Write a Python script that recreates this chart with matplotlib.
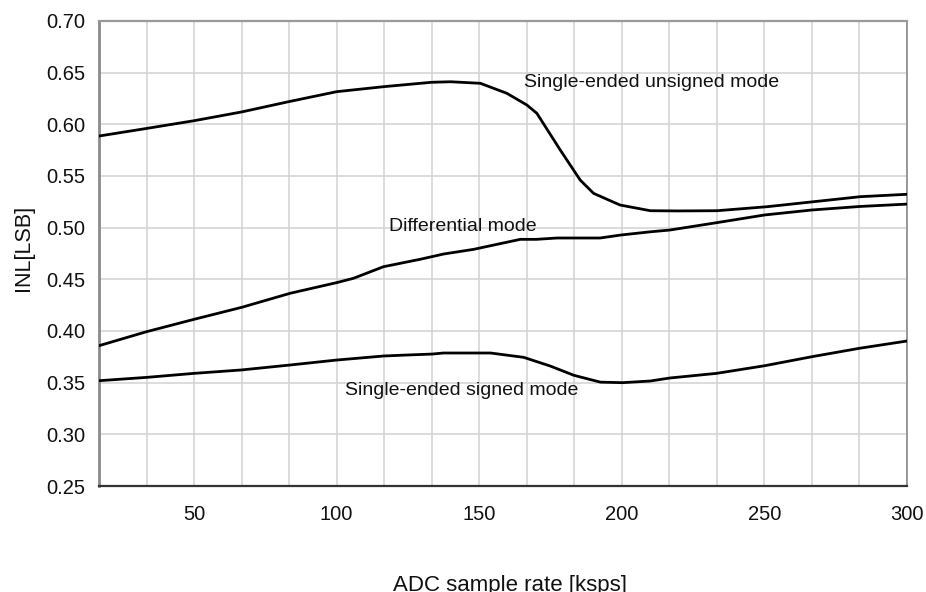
import numpy as np
import matplotlib
matplotlib.use("Agg")
import matplotlib.pyplot as plt

plt.rcParams['font.family'] = ['Liberation Sans', 'DejaVu Sans']

# Data
unsigned_x = [16.7, 33.3, 50, 66.7, 83.3, 100, 116.7, 133.3, 140, 150.4, 159.7, 166.7,
              170.2, 178.4, 185.4, 190.1, 196, 199.4, 210, 220, 233.4, 251, 267.2, 283.7, 300]
unsigned_y = [0.5887, 0.596, 0.6035, 0.612, 0.622, 0.6316, 0.6365, 0.6407, 0.6412, 0.6397,
              0.630, 0.6187, 0.6107, 0.5752, 0.5461, 0.5332, 0.5260, 0.5219, 0.5164, 0.5162,
              0.5164, 0.5203, 0.5251, 0.5300, 0.5323]

diff_x = [16.7, 33.3, 50, 66.7, 83.7, 100, 105.9, 116.4, 122.3, 129.3, 137.5, 148, 164.4,
          170, 177.3, 192.4, 199.7, 210, 216.8, 233.2, 250.1, 266.6, 283.4, 300]
diff_y = [0.3858, 0.3993, 0.4113, 0.4229, 0.4365, 0.4468, 0.451, 0.4622, 0.4655, 0.4694,
          0.4745, 0.4790, 0.4887, 0.4887, 0.4900, 0.4900, 0.4929, 0.4960, 0.4977, 0.5048,
          0.5123, 0.5171, 0.5205, 0.5228]

signed_x = [16.7, 33.3, 50, 66.6, 83.7, 100, 116.4, 122.3, 133.6, 137.5, 154, 165.6, 175,
            183.2, 192.5, 200.3, 210, 216.8, 233.2, 250.1, 266.6, 283.4, 300]
signed_y = [0.3519, 0.3551, 0.3590, 0.3623, 0.3671, 0.3719, 0.3758, 0.3765, 0.3777, 0.3787,
            0.3787, 0.3745, 0.3660, 0.3571, 0.3505, 0.3500, 0.3516, 0.3545, 0.3590, 0.3664,
            0.3751, 0.3833, 0.3903]

x_ticks = [50, 100, 150, 200, 250, 300]
y_ticks = [0.25, 0.30, 0.35, 0.40, 0.45, 0.50, 0.55, 0.60, 0.65, 0.70]

labels = ["Single-ended unsigned mode", "Differential mode", "Single-ended signed mode"]
label_pos = [(165.8, 0.640), (118.5, 0.5016), (103.0, 0.342)]

fig = plt.figure(figsize=(9.26, 5.92), dpi=100)
ax = fig.add_axes([99/926, (592-486)/592, (907-99)/926, (486-21)/592])

for xs, ys in [(unsigned_x, unsigned_y), (diff_x, diff_y), (signed_x, signed_y)]:
    ax.plot(xs, ys, color='black', lw=2.0, solid_joinstyle='round', zorder=3)

for txt, (tx, ty) in zip(labels, label_pos):
    ax.text(tx, ty, txt, fontsize=14, ha='left', va='center', color='#111111', zorder=4)

ax.set_xlim(50/3, 300)
ax.set_ylim(0.25, 0.70)
ax.set_xticks(x_ticks)
ax.set_xticklabels([str(v) for v in x_ticks])
ax.set_xticks(np.arange(300, 10, -50/3), minor=True)
ax.set_yticks(y_ticks)
ax.set_yticklabels([f"{v:.2f}" for v in y_ticks])

ax.grid(True, which='both', color='#d2d2d2', lw=1.1, zorder=0)
ax.set_axisbelow(True)
ax.tick_params(axis='both', which='both', length=0, labelsize=14.5, colors='#111111')
ax.tick_params(axis='x', pad=14)
ax.tick_params(axis='y', pad=10)

ax.spines['left'].set_color('#8a8a8a'); ax.spines['left'].set_linewidth(2.0)
ax.spines['top'].set_color('#9a9a9a'); ax.spines['top'].set_linewidth(1.6)
ax.spines['right'].set_color('#8a8a8a'); ax.spines['right'].set_linewidth(1.2)
ax.spines['bottom'].set_color('#333333'); ax.spines['bottom'].set_linewidth(1.6)

fig.text(23/926, (592-248)/592, "INL[LSB]", rotation=90, ha='center', va='center',
         fontsize=15.5, color='#111111')
fig.text(510/926, 1/592, "ADC sample rate [ksps]", ha='center', va='baseline',
         fontsize=16, color='#111111')

fig.savefig("out.png", dpi=100)
